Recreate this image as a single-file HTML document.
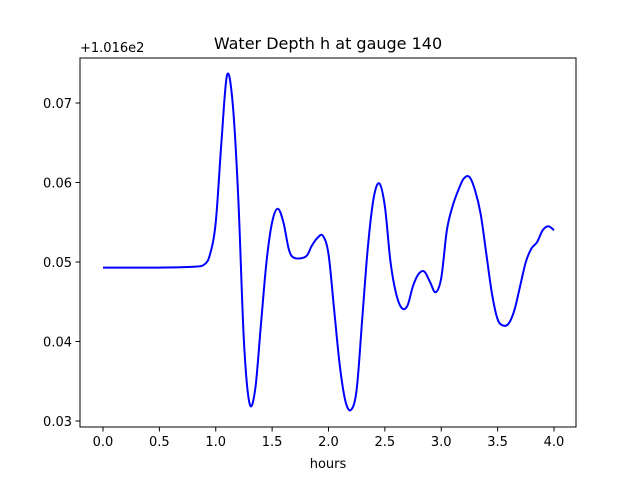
<!DOCTYPE html>
<html><head><meta charset="utf-8"><style>
body{margin:0;background:#fff;}
svg text{font-family:"DejaVu Sans","Liberation Sans",sans-serif;fill:#000;}
</style></head><body>
<svg id="chart" width="640" height="480" viewBox="0 0 640 480" xmlns="http://www.w3.org/2000/svg">
<rect width="640" height="480" fill="#fff"/>
<text x="328" y="49" font-size="16" text-anchor="middle">Water Depth h at gauge 140</text>
<text x="80" y="52" font-size="13">+1.016e2</text>
<text x="328" y="468" font-size="13" text-anchor="middle">hours</text>
<g id="ticks"></g>
<path id="line" fill="none" stroke="#0000ff" stroke-width="2"/>
<rect x="80" y="58" width="496" height="369" fill="none" stroke="#000" stroke-width="1"/>
</svg>
<script>
const hours=[0,0.5,0.8,0.9,0.95,1.0,1.05,1.1,1.15,1.2,1.25,1.3,1.35,1.4,1.45,1.5,1.55,1.6,1.65,1.7,1.8,1.85,1.9,1.95,2.0,2.05,2.1,2.15,2.2,2.25,2.3,2.35,2.4,2.45,2.5,2.55,2.6,2.65,2.7,2.75,2.8,2.85,2.9,2.95,3.0,3.05,3.1,3.15,3.2,3.25,3.3,3.35,3.4,3.45,3.5,3.55,3.6,3.65,3.7,3.75,3.8,3.85,3.9,3.95,4.0];
const depth=[0.0493,0.0493,0.0494,0.0497,0.051,0.055,0.065,0.0735,0.070,0.058,0.040,0.0322,0.034,0.042,0.050,0.055,0.0567,0.055,0.0515,0.0505,0.0507,0.052,0.053,0.0533,0.051,0.044,0.037,0.0325,0.0314,0.034,0.043,0.052,0.058,0.0599,0.057,0.050,0.046,0.0442,0.0445,0.047,0.0485,0.0488,0.0475,0.0462,0.048,0.054,0.057,0.059,0.0605,0.0607,0.059,0.056,0.051,0.046,0.0428,0.042,0.0423,0.044,0.047,0.050,0.0517,0.0525,0.054,0.0545,0.054];
const xTicks=[0,0.5,1,1.5,2,2.5,3,3.5,4];
const yTicks=[0.03,0.04,0.05,0.06,0.07];
const X=v=>103+v*112.75;
const Y=v=>421-(v-0.03)*7950;
const NS="http://www.w3.org/2000/svg";
const g=document.getElementById('ticks');
xTicks.forEach(t=>{
  const l=document.createElementNS(NS,'line');
  
  
  l.setAttribute('x1',X(t));l.setAttribute('x2',X(t));l.setAttribute('y1',427);l.setAttribute('y2',431.5);l.setAttribute('stroke','#000');
  g.appendChild(l);
  const s=document.createElementNS(NS,'text');
  
  
  s.setAttribute('x',X(t));s.setAttribute('y',446);s.setAttribute('font-size','13');s.setAttribute('text-anchor','middle');
  s.textContent=t.toFixed(1);g.appendChild(s);
});
yTicks.forEach(t=>{
  const l=document.createElementNS(NS,'line');
  
  
  l.setAttribute('x1',75.5);l.setAttribute('x2',80);l.setAttribute('y1',Y(t));l.setAttribute('y2',Y(t));l.setAttribute('stroke','#000');
  g.appendChild(l);
  const s=document.createElementNS(NS,'text');
  
  
  s.setAttribute('x',72);s.setAttribute('y',Y(t)+5);s.setAttribute('font-size','13');s.setAttribute('text-anchor','end');
  s.textContent=t.toFixed(2);g.appendChild(s);
});
const pts=hours.map((h,i)=>[X(h),Y(depth[i])]);
let d='M'+pts[0][0]+','+pts[0][1];
for(let i=0;i<pts.length-1;i++){
  const p0=pts[Math.max(0,i-1)],p1=pts[i],p2=pts[i+1],p3=pts[Math.min(pts.length-1,i+2)];
  const c1=[p1[0]+(p2[0]-p0[0])/6,p1[1]+(p2[1]-p0[1])/6];
  const c2=[p2[0]-(p3[0]-p1[0])/6,p2[1]-(p3[1]-p1[1])/6];
  d+=' C'+c1+' '+c2+' '+p2;
}
document.getElementById('line').setAttribute('d',d);
</script>
</body></html>
